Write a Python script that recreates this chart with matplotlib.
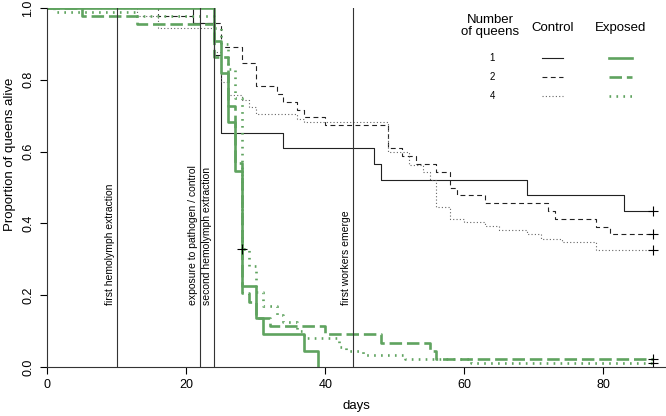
import numpy as np
import matplotlib
matplotlib.use("Agg")
import matplotlib.pyplot as plt
import matplotlib.transforms as mtransforms

# --- Data ---
ctrl1_days = [0, 21, 24, 25, 34, 47, 48, 69, 83]
ctrl1_surv = [1.0, 0.957, 0.870, 0.652, 0.609, 0.565, 0.522, 0.478, 0.435]

ctrl2_days = [0, 16, 21, 25, 28, 30, 33, 34, 36, 37, 40, 49, 51, 53, 56, 58, 59, 63, 72, 73, 79, 81]
ctrl2_surv = [1.0, 0.978, 0.957, 0.891, 0.848, 0.783, 0.761, 0.739, 0.717, 0.696, 0.674,
              0.609, 0.587, 0.565, 0.543, 0.500, 0.478, 0.457, 0.435, 0.413, 0.391, 0.370]

ctrl4_days = [0, 13, 16, 24, 25, 26, 28, 29, 30, 36, 37, 49, 52, 54, 55, 56, 58, 60, 63, 65, 69, 71, 74, 79]
ctrl4_surv = [1.0, 0.979, 0.944, 0.878, 0.795, 0.759, 0.744, 0.725, 0.706, 0.692, 0.683, 0.600,
              0.563, 0.542, 0.520, 0.446, 0.412, 0.403, 0.394, 0.382, 0.370, 0.357, 0.347, 0.326]

exp1_days = [0, 24, 25, 26, 27, 28, 30, 31, 37, 39]
exp1_surv = [1.0, 0.909, 0.818, 0.682, 0.545, 0.227, 0.136, 0.091, 0.045, 0.0]

exp2_days = [0, 5, 13, 24, 26, 27, 28, 29, 30, 32, 40, 48, 55, 56]
exp2_surv = [1.0, 0.977, 0.955, 0.864, 0.727, 0.568, 0.205, 0.182, 0.136, 0.114, 0.091, 0.068, 0.045, 0.023]

exp4_days = [0, 1, 13, 24, 25, 26, 27, 28, 29, 30, 31, 33, 34, 36, 37, 42, 43, 45.5, 51.5, 61]
exp4_surv = [1.0, 0.989, 0.977, 0.943, 0.90, 0.83, 0.75, 0.33, 0.28, 0.21, 0.17, 0.145, 0.125,
             0.10, 0.08, 0.057, 0.045, 0.034, 0.022, 0.011]

end_day = 87.1
cens_day = [87.1, 87.1, 87.1, 87.1, 87.1, 28]
cens_surv = [0.435, 0.370, 0.326, 0.023, 0.011, 0.328]

event_days = [10, 22, 24, 44]
event_labels = ["first hemolymph extraction", "exposure to pathogen / control",
                "second hemolymph extraction", "first workers emerge"]

plt.rcParams["font.family"] = ["Liberation Sans", "DejaVu Sans"]
plt.rcParams["lines.scale_dashes"] = False

green = "#5fa35f"
dark = "#222222"

fig = plt.figure(figsize=(6.66, 4.16), dpi=100)
ax = fig.add_axes([47 / 666, 49 / 416, 619 / 666, 359 / 416])


def km(days, surv, end):
    return list(days) + [end], list(surv) + [surv[-1]]


styles = {
    "c1": dict(color=dark, lw=0.8, ls="-"),
    "c2": dict(color=dark, lw=0.8, ls=(0, (3.5, 2.5))),
    "c4": dict(color="#666666", lw=0.8, ls=(0, (0.8, 1.6))),
    "e1": dict(color=green, lw=1.9, ls="-"),
    "e2": dict(color=green, lw=1.9, ls=(0, (9, 3.5))),
    "e4": dict(color=green, lw=1.9, ls=(0, (1.2, 3.8))),
}

for key, d, s, e in [("c1", ctrl1_days, ctrl1_surv, end_day),
                     ("c2", ctrl2_days, ctrl2_surv, end_day),
                     ("c4", ctrl4_days, ctrl4_surv, end_day),
                     ("e1", exp1_days, exp1_surv, exp1_days[-1]),
                     ("e2", exp2_days, exp2_surv, end_day),
                     ("e4", exp4_days, exp4_surv, end_day)]:
    x, y = km(d, s, e)
    ax.step(x, y, where="post", **styles[key])

ax.plot(cens_day, cens_surv, ls="none", marker="+", ms=7, mew=0.8, color="black")

# event lines and labels
offset = mtransforms.offset_copy(ax.transData, fig=fig, x=-1.2, y=0, units="points")
for d, lab in zip(event_days, event_labels):
    ax.axvline(d, color="#333333", lw=0.8)
    ax.text(d, 0.172, lab, rotation=90, ha="right", va="bottom", fontsize=7.5,
            transform=offset)

ax.set_xlim(0, 89)
ax.set_ylim(0, 1.0)
ax.set_xticks([0, 20, 40, 60, 80])
ax.set_yticks([0, 0.2, 0.4, 0.6, 0.8, 1.0])
ax.set_yticklabels(["0.0", "0.2", "0.4", "0.6", "0.8", "1.0"], rotation=90, va="center")
ax.tick_params(labelsize=9, length=5, width=0.8, pad=4)
for sp in ["top", "right"]:
    ax.spines[sp].set_visible(False)
for sp in ["left", "bottom"]:
    ax.spines[sp].set_linewidth(0.8)
    ax.spines[sp].set_color("#333333")

ax.set_xlabel("days", fontsize=9.5, labelpad=6)
fig.text(10 / 666, 1 - 154 / 416, "Proportion of queens alive", rotation=90,
         ha="center", va="center", fontsize=9.5)

# legend drawn as a small table
def fx(px):
    return px / 666


def fy(py):
    return 1 - py / 416


fig.text(fx(490), fy(26), "Number\nof queens", ha="center", va="center", fontsize=9.5, linespacing=1.1)
fig.text(fx(553), fy(28), "Control", ha="center", va="center", fontsize=9.5)
fig.text(fx(621), fy(28), "Exposed", ha="center", va="center", fontsize=9.5)
for lab, py, c, e in [("1", 58, "c1", "e1"), ("2", 77, "c2", "e2"), ("4", 96, "c4", "e4")]:
    fig.text(fx(492), fy(py), lab, ha="center", va="center", fontsize=7)
    fig.add_artist(plt.Line2D([fx(542), fx(563)], [fy(py), fy(py)], transform=fig.transFigure, **styles[c]))
    fig.add_artist(plt.Line2D([fx(609), fx(632)], [fy(py), fy(py)], transform=fig.transFigure, **styles[e]))

fig.savefig("out.png", dpi=100)
